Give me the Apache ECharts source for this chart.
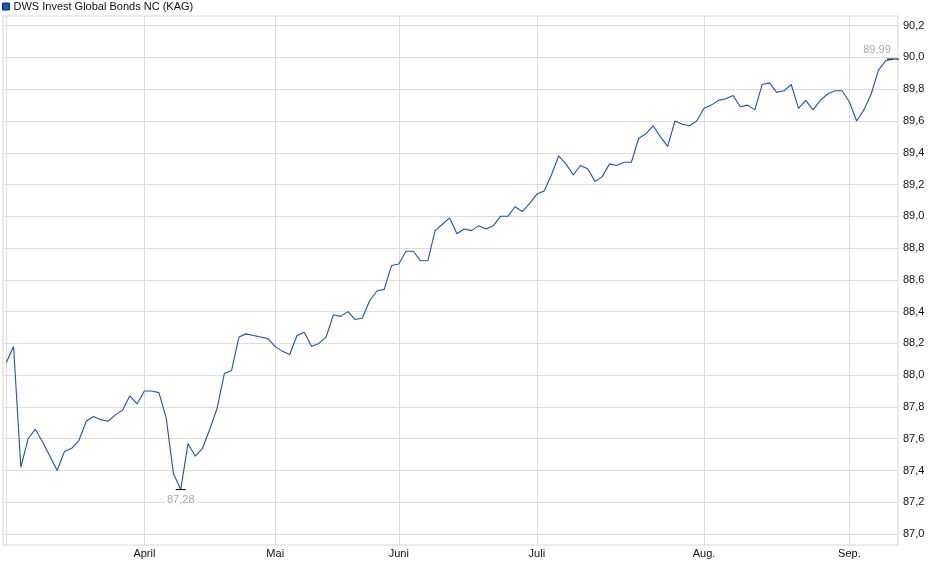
<!DOCTYPE html>
<html>
<head>
<meta charset="utf-8">
<script src="https://cdn.jsdelivr.net/npm/echarts@6/dist/echarts.min.js"></script>
<style>
html,body{margin:0;padding:0;background:#fff;}
#chart{width:940px;height:579px;}
</style>
</head>
<body>
<div id="chart"></div>
<script>
var seriesName = 'DWS Invest Global Bonds NC (KAG)';
// one value per trading day (index 0..122)
var prices = [
  88.08, 88.18, 87.42, 87.60, 87.66, 87.58, 87.49, 87.40, 87.52, 87.54,
  87.59, 87.71, 87.74, 87.72, 87.71, 87.75, 87.78, 87.87, 87.82, 87.90,
  87.90, 87.89, 87.73, 87.38, 87.28, 87.57, 87.49, 87.54, 87.66, 87.79,
  88.01, 88.03, 88.24, 88.26, 88.25, 88.24, 88.23, 88.18, 88.15, 88.13,
  88.25, 88.27, 88.18, 88.20, 88.24, 88.38, 88.37, 88.40, 88.35, 88.36,
  88.47, 88.53, 88.54, 88.69, 88.70, 88.78, 88.78, 88.72, 88.72, 88.91,
  88.95, 88.99, 88.89, 88.92, 88.91, 88.94, 88.92, 88.94, 89.00, 89.00,
  89.06, 89.03, 89.08, 89.14, 89.16, 89.26, 89.38, 89.33, 89.26, 89.32,
  89.30, 89.22, 89.25, 89.33, 89.32, 89.34, 89.34, 89.49, 89.52, 89.57,
  89.50, 89.44, 89.60, 89.58, 89.57, 89.60, 89.68, 89.70, 89.73, 89.74,
  89.76, 89.69, 89.70, 89.67, 89.83, 89.84, 89.78, 89.79, 89.83, 89.68,
  89.73, 89.67, 89.73, 89.77, 89.79, 89.79, 89.72, 89.60, 89.67, 89.77,
  89.92, 89.98, 89.99
];
// first trading day of each month (index into prices) and its label
var monthStartIndex = [19, 37, 54, 73, 96, 116];
var monthLabels = ['April', 'Mai', 'Juni', 'Juli', 'Aug.', 'Sep.'];
var yTicks = [87.0, 87.2, 87.4, 87.6, 87.8, 88.0, 88.2, 88.4, 88.6, 88.8, 89.0, 89.2, 89.4, 89.6, 89.8, 90.0, 90.2];

var lineData = prices.map(function (v, i) { return [i, v]; });
var gridTicks = [0].concat(monthStartIndex);

var chart = echarts.init(document.getElementById('chart'), null, {renderer: 'canvas'});
var fontFam = '"Liberation Sans", Arial, sans-serif';
chart.setOption({
  animation: false,
  backgroundColor: '#fff',
  textStyle: {fontFamily: fontFam},
  legend: {
    left: 0, top: 0, padding: [1, 2],
    icon: 'rect', itemWidth: 7, itemHeight: 7, itemGap: 4,
    data: [{name: seriesName, itemStyle: {color: '#1a56c8', borderColor: '#0a2a70', borderWidth: 1}}],
    textStyle: {fontSize: 11, color: '#111', fontFamily: fontFam, padding: [0, 0, 0, -1]},
    selectedMode: false
  },
  grid: {
    left: 3, right: 42, top: 16, bottom: 34,
    show: true, borderColor: '#d6d6d6', borderWidth: 1,
    containLabel: false
  },
  xAxis: {
    type: 'value',
    min: -0.454, max: 122.69,
    axisLine: {show: false},
    axisTick: {show: false, customValues: gridTicks},
    splitLine: {show: true, lineStyle: {color: '#dcdcdc', width: 1}},
    axisLabel: {
      customValues: monthStartIndex,
      margin: 3,
      fontSize: 11, color: '#111', fontFamily: fontFam,
      formatter: function (v) {
        var k = monthStartIndex.indexOf(Math.round(v));
        return k >= 0 ? monthLabels[k] : '';
      }
    }
  },
  yAxis: {
    type: 'value',
    position: 'right',
    min: 86.931, max: 90.261,
    axisLine: {show: false},
    axisTick: {show: false, customValues: yTicks},
    splitLine: {show: true, lineStyle: {color: '#dcdcdc', width: 1}},
    axisLabel: {
      customValues: yTicks,
      margin: 5,
      fontSize: 11, color: '#111', fontFamily: fontFam,
      formatter: function (v) { return v.toFixed(1).replace('.', ','); }
    }
  },
  series: [{
    name: seriesName,
    type: 'line',
    data: lineData,
    showSymbol: false,
    symbol: 'none',
    color: '#1a56c8',
    lineStyle: {color: '#1852c2', width: 1.1},
    markPoint: {
      silent: true,
      symbol: 'rect',
      itemStyle: {color: '#000'},
      data: [
        {type: 'min', symbolSize: [10, 1],
          label: {position: 'bottom', distance: 4}},
        {type: 'max', symbolSize: [12, 1],
          label: {position: 'top', distance: 3, offset: [-16, 0]}}
      ],
      label: {
        show: true,
        fontSize: 11, color: '#a8a8a8', fontFamily: fontFam,
        backgroundColor: '#fff', padding: [0, 2],
        formatter: function (p) { return p.value.toFixed(2).replace('.', ','); }
      }
    }
  }]
});
</script>
</body>
</html>
